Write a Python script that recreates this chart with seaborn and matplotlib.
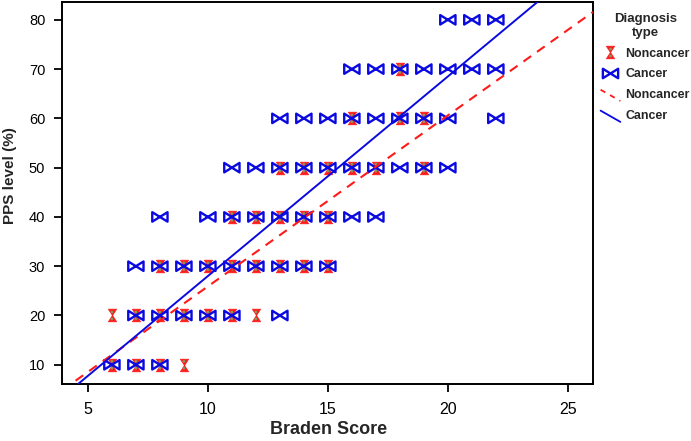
import matplotlib
matplotlib.use("Agg")
import matplotlib.pyplot as plt
import seaborn as sns
import numpy as np
import pandas as pd
from matplotlib.path import Path
from matplotlib.lines import Line2D
from matplotlib.legend_handler import HandlerLine2D

# PPS level vs Braden score
noncancer_braden = [6, 7, 8, 9,
                    6, 7, 8, 9, 10, 11, 12,
                    8, 9, 10, 11, 12, 13, 14, 15,
                    11, 12, 13, 14, 15,
                    13, 14, 15, 16, 17, 19,
                    16, 18, 19,
                    18]
noncancer_pps = [10] * 4 + [20] * 7 + [30] * 8 + [40] * 5 + [50] * 6 + [60] * 3 + [70] * 1

cancer_braden = [6, 7, 8,
                 7, 8, 9, 10, 11, 13,
                 7, 8, 9, 10, 11, 12, 13, 14, 15,
                 8, 10, 11, 12, 13, 14, 15, 16, 17,
                 11, 12, 13, 14, 15, 16, 17, 18, 19, 20,
                 13, 14, 15, 16, 17, 18, 19, 20, 22,
                 16, 17, 18, 19, 20, 21, 22,
                 20, 21, 22]
cancer_pps = [10] * 3 + [20] * 6 + [30] * 9 + [40] * 9 + [50] * 10 + [60] * 9 + [70] * 7 + [80] * 3

# fitted lines (slope, intercept)
fit_noncancer = (3.47, -8.8)
fit_cancer = (4.05, -12.5)

RED = "#ff1a1a"
BLUE = "#0a0ae0"
GREEN = "#7c9c62"

df_n = pd.DataFrame({"Braden": noncancer_braden, "PPS": noncancer_pps})
df_c = pd.DataFrame({"Braden": cancer_braden, "PPS": cancer_pps})

# custom markers: upright hourglass and sideways bowtie
hourglass = Path([(-0.65, 1), (0.65, 1), (-0.65, -1), (0.65, -1), (-0.65, 1)],
                 [Path.MOVETO, Path.LINETO, Path.LINETO, Path.LINETO, Path.CLOSEPOLY])
dots = Path.make_compound_path(Path.circle((0, 0.55), 0.22), Path.circle((0, -0.55), 0.22))
bowtie = Path([(-1, 0.62), (-1, -0.62), (1, 0.62), (1, -0.62), (-1, 0.62)],
              [Path.MOVETO, Path.LINETO, Path.LINETO, Path.LINETO, Path.CLOSEPOLY])

sns.set_theme(style="ticks")
plt.rcParams["font.family"] = ["Liberation Sans", "DejaVu Sans"]

fig = plt.figure(figsize=(6.91, 4.41), dpi=100)
ax = fig.add_axes([0.0897, 0.1293, 0.7685, 0.866])

hg_size = 9.0
sns.scatterplot(data=df_n, x="Braden", y="PPS", marker=hourglass, s=hg_size ** 2,
                color=RED, edgecolor=RED, linewidth=0.6, legend=False, ax=ax, zorder=3)
sns.scatterplot(data=df_n, x="Braden", y="PPS", marker=dots, s=(hg_size * 0.77) ** 2,
                color=GREEN, edgecolor="none", linewidth=0, legend=False, ax=ax, zorder=3)
sns.scatterplot(data=df_c, x="Braden", y="PPS", marker=bowtie, s=11.0 ** 2,
                facecolor="none", edgecolor=BLUE, linewidth=1.7, legend=False, ax=ax, zorder=4)

xlim = (3.92, 26.05)
ylim = (6.1, 83.6)
ax.set_xlim(xlim)
ax.set_ylim(ylim)

xs = np.array(xlim)
ax.plot(xs, fit_noncancer[0] * xs + fit_noncancer[1], color=RED, lw=1.5,
        linestyle=(0, (4.5, 3.5)), zorder=5)
ax.plot(xs, fit_cancer[0] * xs + fit_cancer[1], color=BLUE, lw=1.4, zorder=5)

ax.set_xticks([5, 10, 15, 20, 25])
ax.set_yticks([10, 20, 30, 40, 50, 60, 70, 80])
ax.tick_params(axis="both", length=6, width=1.3, color="black", labelcolor="black")
ax.tick_params(axis="x", labelsize=11.5, pad=7)
ax.tick_params(axis="y", labelsize=10.5, pad=6)
for sp in ax.spines.values():
    sp.set_visible(True)
    sp.set_linewidth(1.4)
    sp.set_color("black")
ax.set_xlabel("Braden Score", fontsize=13, fontweight="bold", va="top")
ax.set_ylabel("PPS level (%)", fontsize=11, fontweight="bold", va="bottom")
ax.xaxis.set_label_coords(0.502, -0.097)
ax.yaxis.set_label_coords(-0.085, 0.545)


class DiagHandler(HandlerLine2D):
    # legend line samples drawn as a short diagonal
    def create_artists(self, legend, orig_handle, xdescent, ydescent, width, height, fontsize, trans):
        ln = Line2D([-xdescent, -xdescent + width], [-ydescent + height, -ydescent - 0.3 * height])
        self.update_prop(ln, orig_handle, legend)
        ln.set_transform(trans)
        return [ln]


h_nc = (Line2D([], [], marker=hourglass, linestyle="none", markersize=hg_size,
               markerfacecolor=RED, markeredgecolor=RED, markeredgewidth=0.6),
        Line2D([], [], marker=dots, linestyle="none", markersize=hg_size * 0.77,
               markerfacecolor=GREEN, markeredgecolor="none"))
h_c = Line2D([], [], marker=bowtie, linestyle="none", markersize=11.0,
             markerfacecolor="none", markeredgecolor=BLUE, markeredgewidth=1.7)
l_nc = Line2D([], [], color=RED, lw=1.3, linestyle=(0, (3, 3)))
l_c = Line2D([], [], color=BLUE, lw=1.3)

leg = fig.legend([h_nc, h_c, l_nc, l_c], ["Noncancer", "Cancer", "Noncancer", "Cancer"],
                 title="Diagnosis\ntype", loc="upper left", bbox_to_anchor=(0.862, 0.982),
                 frameon=False, prop={"size": 8.9, "weight": "bold"},
                 title_fontproperties={"size": 9.5, "weight": "bold"},
                 handlelength=1.6, handletextpad=0.4, labelspacing=0.72, borderaxespad=0,
                 handler_map={l_nc: DiagHandler(), l_c: DiagHandler()})
leg.get_title().set_multialignment("center")

fig.savefig("out.png", dpi=100)
